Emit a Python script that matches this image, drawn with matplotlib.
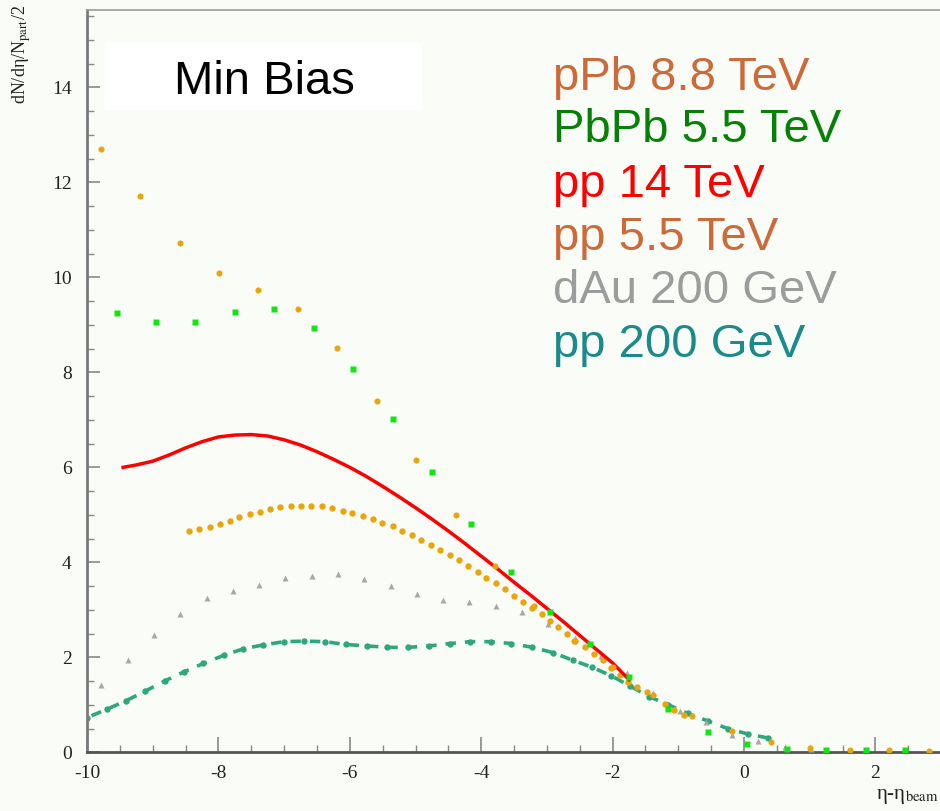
import matplotlib
matplotlib.use("Agg")
import matplotlib.pyplot as plt
from matplotlib.patches import Rectangle
from matplotlib.ticker import MultipleLocator

plt.rcParams['mathtext.fontset'] = 'stix'
plt.rcParams['lines.scale_dashes'] = False

# ---------------- data ----------------
# sparse orange dots (pPb 8.8 TeV)
ppb_x = [-9.79, -9.19, -8.59, -7.99, -7.39, -6.79, -6.19, -5.59, -4.99, -4.39, -3.79,
         -3.19, -2.59, -1.99, -1.39, -0.79, -0.19, 0.41, 1.01, 1.61, 2.21, 2.81]
ppb_y = [12.70, 11.71, 10.73, 10.10, 9.73, 9.34, 8.51, 7.39, 6.15, 4.99, 3.92,
         3.07, 2.34, 1.79, 1.21, 0.77, 0.45, 0.21, 0.10, 0.05, 0.04, 0.02]

# green squares (PbPb 5.5 TeV)
pbpb_x = [-9.55, -8.95, -8.35, -7.75, -7.15, -6.55, -5.95, -5.35, -4.75, -4.15, -3.55,
          -2.95, -2.35, -1.75, -1.15, -0.55, 0.05, 0.65, 1.25, 1.85, 2.45]
pbpb_y = [9.25, 9.06, 9.06, 9.27, 9.33, 8.93, 8.08, 7.01, 5.90, 4.81, 3.80,
          2.95, 2.27, 1.58, 0.91, 0.42, 0.18, 0.08, 0.04, 0.04, 0.04]

# red curve (pp 14 TeV)
pp14_x = [-9.45, -9.25, -9.0, -8.75, -8.5, -8.25, -8.0, -7.75, -7.5, -7.25, -7.0,
          -6.75, -6.5, -6.25, -6.0, -5.75, -5.5, -5.25, -5.0, -4.75, -4.5, -4.25,
          -4.0, -3.75, -3.5, -3.25, -3.0, -2.75, -2.5, -2.25, -2.0, -1.75]
pp14_y = [6.00, 6.05, 6.13, 6.26, 6.41, 6.54, 6.64, 6.68, 6.69, 6.66, 6.58,
          6.47, 6.33, 6.17, 6.00, 5.81, 5.60, 5.38, 5.15, 4.91, 4.66, 4.40,
          4.13, 3.86, 3.58, 3.31, 3.03, 2.75, 2.46, 2.17, 1.88, 1.53]

# dense orange dots (pp 5.5 TeV)
pp55_x = [-8.44, -8.29, -8.13, -7.98, -7.83, -7.68, -7.52, -7.37, -7.21, -7.06, -6.90,
          -6.74, -6.59, -6.43, -6.27, -6.11, -5.96, -5.80, -5.65, -5.51, -5.35, -5.21,
          -5.06, -4.91, -4.76, -4.62, -4.48, -4.34, -4.20, -4.05, -3.92, -3.77, -3.64,
          -3.50, -3.37, -3.22, -3.08, -2.95, -2.83, -2.69, -2.57, -2.42, -2.29, -2.14,
          -2.02, -1.89, -1.76, -1.63, -1.48, -1.20, -1.07, -0.92]
pp55_y = [4.66, 4.70, 4.75, 4.81, 4.87, 4.95, 5.01, 5.07, 5.12, 5.16, 5.19,
          5.19, 5.19, 5.18, 5.14, 5.09, 5.04, 4.98, 4.91, 4.83, 4.76, 4.67,
          4.57, 4.48, 4.37, 4.26, 4.15, 4.04, 3.92, 3.80, 3.68, 3.56, 3.43,
          3.30, 3.17, 3.04, 2.91, 2.77, 2.63, 2.49, 2.35, 2.22, 2.08, 1.94,
          1.77, 1.63, 1.49, 1.38, 1.26, 1.01, 0.90, 0.79]

# grey triangles (dAu 200 GeV)
dau_x = [-9.78, -9.38, -8.98, -8.58, -8.18, -7.78, -7.38, -6.98, -6.58, -6.18, -5.78,
         -5.38, -4.98, -4.58, -4.18, -3.78, -3.38, -2.98, -2.58, -2.18, -1.78, -1.38,
         -0.98, -0.58, -0.18, 0.22, 0.62, 1.02]
dau_y = [1.42, 1.94, 2.48, 2.91, 3.24, 3.39, 3.53, 3.66, 3.72, 3.75, 3.64,
         3.50, 3.33, 3.20, 3.16, 3.07, 2.95, 2.71, 2.40, 2.03, 1.66, 1.24,
         0.88, 0.64, 0.36, 0.24, 0.12, 0.06]

# teal dash-dot curve (pp 200 GeV)
pp200_x = [-10.0, -9.69, -9.40, -9.11, -8.82, -8.53, -8.23, -7.92, -7.62, -7.32, -7.00,
           -6.70, -6.38, -6.06, -5.74, -5.43, -5.11, -4.79, -4.48, -4.17, -3.85, -3.54,
           -3.22, -2.91, -2.61, -2.31, -2.02, -1.74, -1.44, -1.15, -0.86, -0.55, -0.25,
           0.06, 0.37]
pp200_y = [0.73, 0.91, 1.09, 1.29, 1.50, 1.69, 1.87, 2.04, 2.18, 2.26, 2.33,
           2.34, 2.33, 2.27, 2.24, 2.21, 2.21, 2.24, 2.29, 2.33, 2.33, 2.29,
           2.21, 2.10, 1.94, 1.79, 1.61, 1.40, 1.17, 1.00, 0.82, 0.66, 0.50,
           0.385, 0.30]

legend_labels = ["pPb 8.8 TeV", "PbPb 5.5 TeV", "pp 14 TeV", "pp 5.5 TeV",
                 "dAu 200 GeV", "pp 200 GeV"]
legend_colors = ["#cc6a3a", "#068006", "#ff0000", "#cc6a3a", "#9c9c9c", "#1a8a8a"]

x_ticks = [-10, -8, -6, -4, -2, 0, 2]
y_ticks = [0, 2, 4, 6, 8, 10, 12, 14]

# ---------------- figure ----------------
W, H = 940, 811
bg = "#fafcf8"
fig = plt.figure(figsize=(W / 100, H / 100), dpi=100, facecolor=bg)
ax = fig.add_axes([87 / W, (H - 752.3) / H, (W - 87) / W, (752.3 - 10) / H])
ax.set_facecolor(bg)

orange = "#e8a50c"
teal = "#2ea77e"

ax.plot(pp200_x, pp200_y, color=teal, lw=2.6, linestyle=(10.5, (7.5, 6.5)),
        dash_capstyle='butt', zorder=2)
ax.plot(pp200_x, pp200_y, 'o', color=teal, ms=4.6, mec='none', zorder=2.1)
ax.plot(dau_x, dau_y, '^', color="#a8a8a8", ms=4.2, mec='none', zorder=3)
ax.plot(pp55_x, pp55_y, 'o', color=orange, ms=4.6, mec='none', zorder=4)
ax.plot(pp14_x, pp14_y, '-', color="#ff0000", lw=2.5, solid_joinstyle='round', zorder=5)
ax.plot(ppb_x, ppb_y, 'o', color=orange, ms=4.4, mec='none', zorder=6)
ax.plot(pbpb_x, pbpb_y, 's', color="#12e612", ms=4.4, mec='none', zorder=7)

ax.set_xlim(-10, 2.983)
ax.set_ylim(0, 15.63)
ax.set_xticks(x_ticks)
ax.set_yticks(y_ticks)
ax.set_xticklabels([str(t) for t in x_ticks], family="Liberation Serif", fontsize=14)
ax.set_yticklabels([str(t) for t in y_ticks], family="Liberation Serif", fontsize=14)
ax.xaxis.set_minor_locator(MultipleLocator(0.5))
ax.yaxis.set_minor_locator(MultipleLocator(0.5))
ax.tick_params(which='major', direction='in', length=10, width=1.2, color="#888888",
               labelcolor="#222222")
ax.tick_params(which='minor', direction='in', length=5, width=1.0, color="#888888")
ax.tick_params(axis='y', which='major', length=9, pad=11)
ax.tick_params(axis='x', which='major', length=11, pad=9)
ax.spines['right'].set_visible(False)
ax.spines['left'].set_color("#7a7a7a")
ax.spines['left'].set_linewidth(2)
ax.spines['bottom'].set_color("#555555")
ax.spines['bottom'].set_linewidth(2)
ax.spines['top'].set_color("#9a9a9a")
ax.spines['top'].set_linewidth(1.2)

# axis titles
fig.text(22 / W, 1 - 5 / H, r"dN/dη/N$_{\mathrm{part}}$/2", rotation=90,
         ha='center', va='top', family="Liberation Serif", fontsize=13, color="#222222")
fig.text(1 - 1 / W, (H - 806) / H, r"η-η$_{\mathrm{beam}}$", ha='right', va='bottom',
         family="Liberation Serif", fontsize=15, color="#222222")

# Min Bias box
fig.patches.append(Rectangle((105 / W, (H - 110) / H), (421.7 - 105) / W, (110 - 43.3) / H,
                             transform=fig.transFigure, facecolor="white",
                             edgecolor="none", zorder=10))
fig.text(264 / W, (H - 94) / H, "Min Bias", ha='center', va='baseline',
         family="Liberation Sans", fontsize=34, color="black", zorder=11)

# legend texts
baselines = [90, 141.7, 196.7, 250, 303.3, 356.7]
for lab, col, b in zip(legend_labels, legend_colors, baselines):
    fig.text(553 / W, (H - b) / H, lab, ha='left', va='baseline',
             family="Liberation Sans", fontsize=34, color=col, zorder=11)

fig.savefig("out.png", dpi=100, facecolor=bg)
